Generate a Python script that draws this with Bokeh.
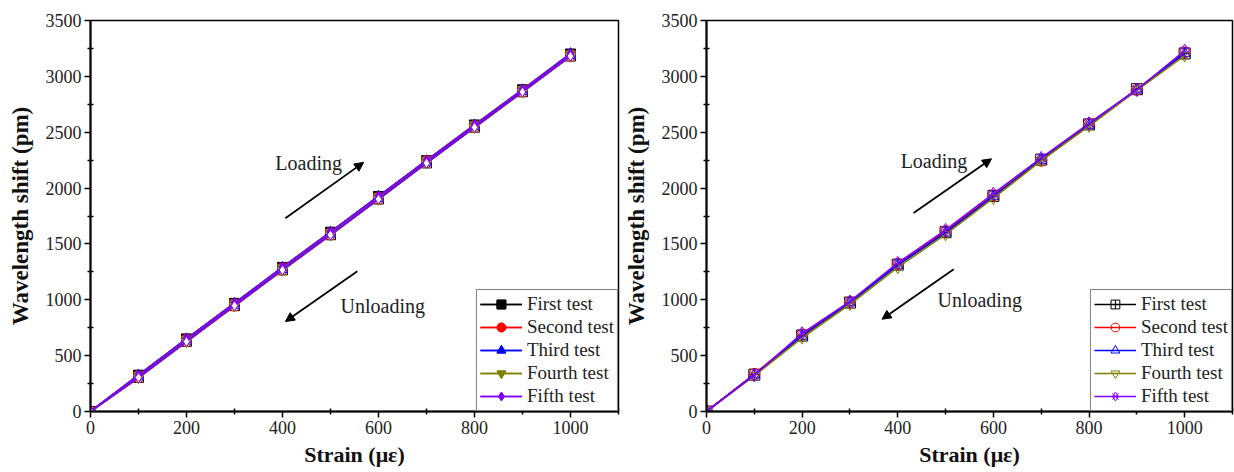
from bokeh.plotting import figure
from bokeh.layouts import row
from bokeh.models import (Range1d, Legend, LegendItem, Arrow, NormalHead, Label,
                          FixedTicker)
from bokeh.embed import file_html
from bokeh.resources import INLINE

# ---------------- data ----------------
strain = [0, 100, 200, 300, 400, 500, 600, 700, 800, 900, 1000]
test_names = ["First test", "Second test", "Third test", "Fourth test", "Fifth test"]
colors = ["#000000", "#FF0000", "#0000FF", "#808000", "#8000FF"]

# left panel: loading (filled markers) and unloading (hollow markers)
left_load_1 = [0, 325, 650, 968, 1290, 1605, 1925, 2245, 2565, 2880, 3200]
left_load_2 = [0, 322, 648, 965, 1288, 1602, 1922, 2248, 2562, 2878, 3198]
left_load_3 = [0, 328, 652, 970, 1292, 1608, 1928, 2246, 2566, 2882, 3205]
left_load_4 = [0, 326, 649, 972, 1289, 1604, 1924, 2250, 2568, 2884, 3202]
left_load_5 = [0, 324, 651, 969, 1291, 1606, 1926, 2247, 2564, 2881, 3201]
left_unload_1 = [0, 305, 628, 948, 1268, 1582, 1902, 2225, 2545, 2862, 3182]
left_unload_2 = [0, 303, 625, 942, 1266, 1580, 1900, 2228, 2542, 2860, 3180]
left_unload_3 = [0, 308, 630, 950, 1270, 1585, 1905, 2226, 2548, 2864, 3185]
left_unload_4 = [0, 300, 622, 945, 1262, 1578, 1898, 2222, 2540, 2858, 3178]
left_unload_5 = [0, 304, 626, 947, 1267, 1581, 1901, 2224, 2544, 2861, 3181]

# right panel
right_1 = [0, 330, 680, 975, 1315, 1605, 1930, 2255, 2570, 2885, 3205]
right_2 = [0, 335, 690, 980, 1320, 1615, 1935, 2245, 2575, 2880, 3215]
right_3 = [0, 330, 675, 975, 1310, 1600, 1925, 2250, 2560, 2880, 3205]
right_4 = [0, 320, 660, 960, 1290, 1585, 1910, 2245, 2555, 2875, 3185]
right_5 = [0, 325, 700, 985, 1330, 1625, 1950, 2270, 2580, 2880, 3230]

x_ticks = [0, 200, 400, 600, 800, 1000]
y_ticks = [0, 500, 1000, 1500, 2000, 2500, 3000, 3500]

FONT = "Liberation Serif"


def base_fig(border_left, border_right, width):
    p = figure(width=width, height=472, output_backend="svg", toolbar_location=None,
               x_range=Range1d(0, 1100), y_range=Range1d(0, 3500),
               min_border_left=border_left, min_border_right=border_right,
               min_border_top=20, min_border_bottom=61)
    p.xgrid.visible = False
    p.ygrid.visible = False
    p.outline_line_color = "black"
    p.outline_line_width = 1.5
    p.background_fill_color = "white"
    p.border_fill_color = "white"
    for ax in (p.xaxis[0], p.yaxis[0]):
        ax.axis_line_width = 2
        ax.axis_line_color = "black"
        ax.major_tick_line_width = 1.5
        ax.minor_tick_line_width = 1.5
        ax.major_tick_out = 6
        ax.major_tick_in = 0
        ax.minor_tick_out = 3
        ax.minor_tick_in = 3
        ax.major_label_standoff = 3
        ax.major_label_text_font = FONT
        ax.major_label_text_font_size = "18px"
        ax.major_label_text_color = "#222222"
        ax.axis_label_text_font = FONT
        ax.axis_label_text_font_style = "bold"
        ax.axis_label_text_color = "#111111"
    p.xaxis.axis_label_text_font_size = "22px"
    p.yaxis.axis_label_text_font_size = "23px"
    p.xaxis.ticker = FixedTicker(ticks=x_ticks, minor_ticks=[100, 300, 500, 700, 900, 1100])
    p.yaxis.ticker = FixedTicker(ticks=y_ticks,
                                 minor_ticks=[250, 750, 1250, 1750, 2250, 2750, 3250])
    p.xaxis.axis_label = "Strain (με)"
    p.yaxis.axis_label = "Wavelength shift (pm)"
    p.xaxis.axis_label_standoff = 5
    p.yaxis.axis_label_standoff = 10
    return p


def add_arrows(p, load_start, load_end, unload_start, unload_end, load_txt, unload_txt):
    for s, e in ((load_start, load_end), (unload_start, unload_end)):
        p.add_layout(Arrow(end=NormalHead(size=9, fill_color="black", line_color="black"),
                           x_start=s[0], y_start=s[1], x_end=e[0], y_end=e[1],
                           line_width=1.8, line_color="black"))
    p.add_layout(Label(x=load_txt[0], y=load_txt[1], text="Loading", text_font=FONT,
                       text_font_size="20px", text_color="#222222", text_baseline="middle"))
    p.add_layout(Label(x=unload_txt[0], y=unload_txt[1], text="Unloading", text_font=FONT,
                       text_font_size="20px", text_color="#222222", text_baseline="middle"))


def style_legend(p, items):
    leg = Legend(items=items, location="bottom_right", margin=0,
                 label_text_font=FONT, label_text_font_size="19px",
                 label_text_color="#222222", glyph_width=42, glyph_height=22,
                 label_height=22, spacing=1, padding=3, label_standoff=5,
                 border_line_color="black", border_line_width=1,
                 background_fill_alpha=1.0)
    p.add_layout(leg)


# ---------------- left panel ----------------
p1 = base_fig(90, 2, 620)
left_load = [left_load_1, left_load_2, left_load_3, left_load_4, left_load_5]
left_unload = [left_unload_1, left_unload_2, left_unload_3, left_unload_4, left_unload_5]
markers_left = ["square", "circle", "triangle", "inverted_triangle", "diamond"]
items1 = []
for name, col, mk, yl, yu in zip(test_names, colors, markers_left, left_load, left_unload):
    l1 = p1.line(strain, yl, line_color=col, line_width=1.6)
    l2 = p1.line(strain, yu, line_color=col, line_width=1.6)
    m1 = p1.scatter(strain, yl, marker=mk, size=10, fill_color=col, line_color=col)
    m2 = p1.scatter(strain, yu, marker=mk, size=10, fill_color="white", line_color=col)
    items1.append(LegendItem(label=name, renderers=[l1, l2, m2, m1]))
add_arrows(p1, (406, 1730), (569, 2230), (556, 1255), (406, 805), (385, 2225), (521, 945))
style_legend(p1, items1)

# ---------------- right panel ----------------
p2 = base_fig(84, 2, 614)
right = [right_1, right_2, right_3, right_4, right_5]
markers_right = ["square_cross", "circle", "triangle", "inverted_triangle", "x"]
items2 = []
for name, col, mk, yv in zip(test_names, colors, markers_right, right):
    ln = p2.line(strain, yv, line_color=col, line_width=1.6)
    rs = [ln]
    if name == "Fifth test":
        d = p2.scatter(strain, yv, marker="diamond", size=13, fill_color=None,
                       line_color=col, line_width=1)
        rs.append(d)
    m = p2.scatter(strain, yv, marker=mk, size=11, fill_color=None, line_color=col,
                   line_width=1)
    rs.append(m)
    items2.append(LegendItem(label=name, renderers=rs))
add_arrows(p2, (433, 1777), (596, 2262), (517, 1274), (367, 826), (406, 2244), (483, 996))
style_legend(p2, items2)

layout = row(p1, p2)
open("out.html", "w").write(file_html(layout, INLINE))
